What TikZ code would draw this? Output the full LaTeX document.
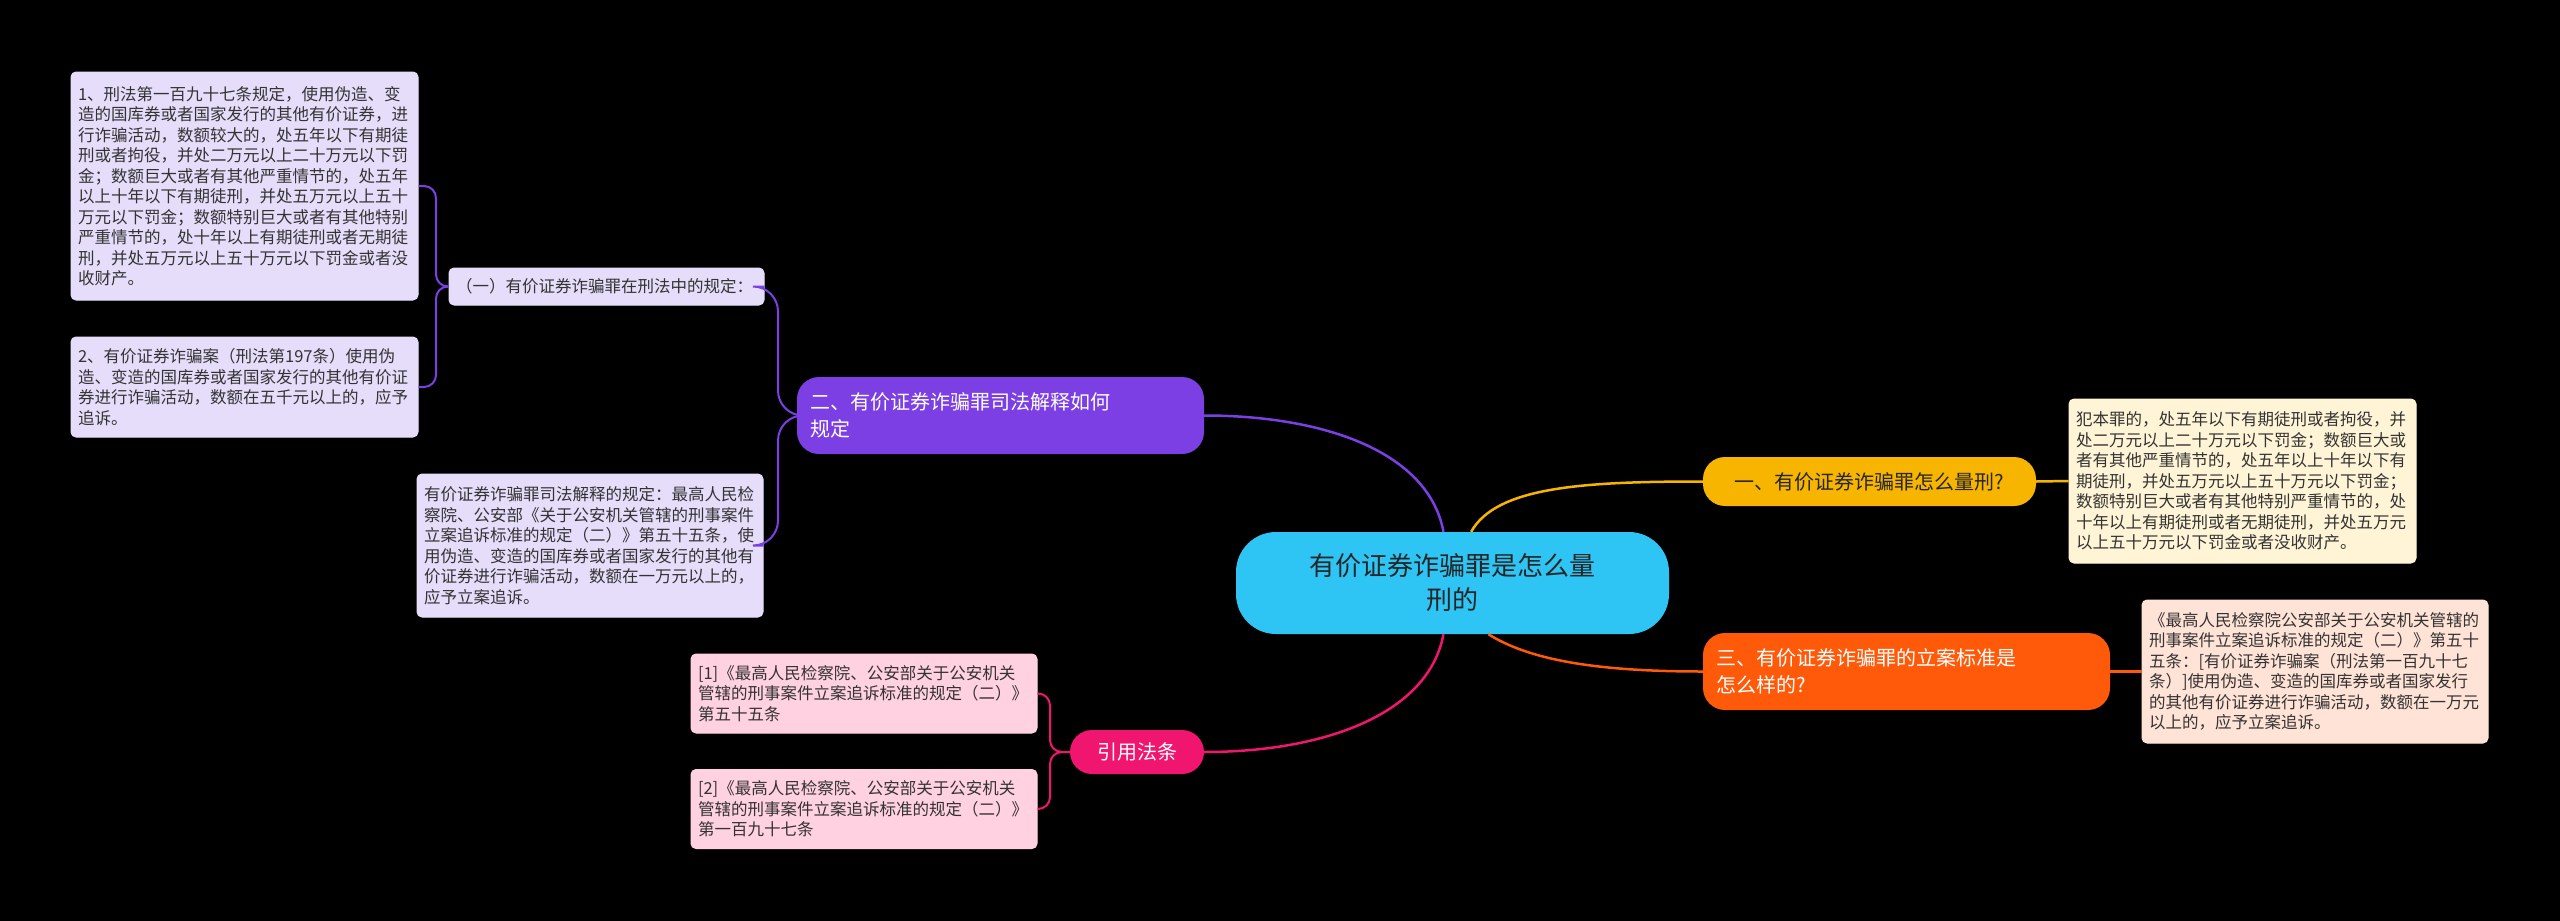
\documentclass[tikz,border=0pt]{standalone}
\usepackage{fontspec}
\setmainfont{Noto Sans CJK SC}
\begin{document}
\begin{tikzpicture}[x=1pt,y=-1pt,
  leaf/.style={draw=#1!60!white,line width=1pt,rounded corners=5pt,inner xsep=7pt,inner ysep=6pt,align=left,anchor=center,font=\fontsize{16.5}{20.5}\selectfont,text=black!80},
  br/.style={fill=#1,rounded corners=22pt,inner sep=6pt,align=left,text=white,font=\fontsize{20}{27}\selectfont},
  con/.style={draw=#1,line width=2.5pt}]
\useasboundingbox[fill=black] (0,0) rectangle (2560,921);
\definecolor{cyanc}{HTML}{2EC4F3}
\definecolor{purc}{HTML}{7B3FE4}
\definecolor{yelc}{HTML}{F7B500}
\definecolor{orac}{HTML}{FF5A0A}
\definecolor{pinc}{HTML}{F0156E}
\definecolor{purl}{HTML}{E6DDFA}
\definecolor{yell}{HTML}{FFF4D6}
\definecolor{oral}{HTML}{FFE3D6}
\definecolor{pinl}{HTML}{FFD1E1}

\node[fill=cyanc,rounded corners=40pt,minimum width=433pt,minimum height=102pt,align=center,text=black!85,font=\fontsize{26}{34}\selectfont] (cen) at (1452.5,583) {有价证券诈骗罪是怎么量\\刑的};

\node[br=yelc,minimum width=333pt,minimum height=49pt,text=black!85] (b1) at (1869.5,481.5) {一、有价证券诈骗罪怎么量刑?};
\node[br=orac,minimum width=407pt,minimum height=77pt,text width=380pt] (b3) at (1906.5,671.5) {三、有价证券诈骗罪的立案标准是\\怎么样的?};
\node[br=purc,minimum width=407pt,minimum height=77pt,text width=380pt] (b2) at (1000.5,415.5) {二、有价证券诈骗罪司法解释如何\\规定};
\node[br=pinc,minimum width=134pt,minimum height=44pt,align=center] (b4) at (1137,752) {引用法条};

\node[leaf=yell,fill=yell,draw=yell,minimum width=347pt,minimum height=164pt,text width=333pt] (l1) at (2242.5,481) {犯本罪的，处五年以下有期徒刑或者拘役，并\\处二万元以上二十万元以下罚金；数额巨大或\\者有其他严重情节的，处五年以上十年以下有\\期徒刑，并处五万元以上五十万元以下罚金；\\数额特别巨大或者有其他特别严重情节的，处\\十年以上有期徒刑或者无期徒刑，并处五万元\\以上五十万元以下罚金或者没收财产。};
\node[leaf=oral,fill=oral,draw=oral,minimum width=346pt,minimum height=143pt,text width=332pt] (l3) at (2315,671.5) {《最高人民检察院公安部关于公安机关管辖的\\刑事案件立案追诉标准的规定（二）》第五十\\五条：[有价证券诈骗案（刑法第一百九十七\\条）]使用伪造、变造的国库券或者国家发行\\的其他有价证券进行诈骗活动，数额在一万元\\以上的，应予立案追诉。};

\node[leaf=purl,fill=purl,draw=purl,minimum width=315pt,minimum height=37pt,text width=301pt] (s1) at (606.5,286.5) {（一）有价证券诈骗罪在刑法中的规定：};
\node[leaf=purl,fill=purl,draw=purl,minimum width=346pt,minimum height=143pt,text width=332pt] (l2) at (590,545.5) {有价证券诈骗罪司法解释的规定：最高人民检\\察院、公安部《关于公安机关管辖的刑事案件\\立案追诉标准的规定（二）》第五十五条，使\\用伪造、变造的国库券或者国家发行的其他有\\价证券进行诈骗活动，数额在一万元以上的，\\应予立案追诉。};
\node[leaf=purl,fill=purl,draw=purl,minimum width=347pt,minimum height=228pt,text width=333pt] (l1a) at (244.5,186) {1、刑法第一百九十七条规定，使用伪造、变\\造的国库券或者国家发行的其他有价证券，进\\行诈骗活动，数额较大的，处五年以下有期徒\\刑或者拘役，并处二万元以上二十万元以下罚\\金；数额巨大或者有其他严重情节的，处五年\\以上十年以下有期徒刑，并处五万元以上五十\\万元以下罚金；数额特别巨大或者有其他特别\\严重情节的，处十年以上有期徒刑或者无期徒\\刑，并处五万元以上五十万元以下罚金或者没\\收财产。};
\node[leaf=purl,fill=purl,draw=purl,minimum width=347pt,minimum height=100pt,text width=333pt] (l1b) at (244.5,387) {2、有价证券诈骗案（刑法第197条）使用伪\\造、变造的国库券或者国家发行的其他有价证\\券进行诈骗活动，数额在五千元以上的，应予\\追诉。};

\node[leaf=pinl,fill=pinl,draw=pinl,minimum width=346pt,minimum height=79pt,text width=332pt] (r1) at (864,693.5) {[1]《最高人民检察院、公安部关于公安机关\\管辖的刑事案件立案追诉标准的规定（二）》\\ 第五十五条};
\node[leaf=pinl,fill=pinl,draw=pinl,minimum width=346pt,minimum height=79pt,text width=332pt] (r2) at (864,809) {[2]《最高人民检察院、公安部关于公安机关\\管辖的刑事案件立案追诉标准的规定（二）》\\ 第一百九十七条};

% main connectors
\draw[con=yelc] (cen.70) .. controls +(25,-45) and +(-120,0) .. (b1.west);
\draw[con=orac] (cen.-55) .. controls +(40,25) and +(-110,0) .. (b3.west);
\draw[con=purc] (cen.100) .. controls +(-15,-80) and +(120,0) .. (b2.east);
\draw[con=pinc] (cen.-100) .. controls +(-15,80) and +(120,0) .. (b4.east);
\draw[con=yelc] (b1.east) -- (l1.west);
\draw[con=orac] (b3.east) -- (l3.west);

% brackets
\coordinate (k2) at (778,0);
\coordinate (k1) at (436,0);
\coordinate (k4) at (1050,0);
\draw[con=purc,line width=2pt,rounded corners=25pt] (b2.west) -- (k2|-b2.west) -- (k2|-s1.east) -- (s1.east);
\draw[con=purc,line width=2pt,rounded corners=25pt] (b2.west) -- (k2|-b2.west) -- (k2|-l2.east) -- (l2.east);
\draw[con=purc,line width=2pt,rounded corners=12pt] (s1.west) -- (k1|-s1.west) -- (k1|-l1a.east) -- (l1a.east);
\draw[con=purc,line width=2pt,rounded corners=12pt] (s1.west) -- (k1|-s1.west) -- (k1|-l1b.east) -- (l1b.east);
\draw[con=pinc,line width=2pt,rounded corners=12pt] (b4.west) -- (k4|-b4.west) -- (k4|-r1.east) -- (r1.east);
\draw[con=pinc,line width=2pt,rounded corners=12pt] (b4.west) -- (k4|-b4.west) -- (k4|-r2.east) -- (r2.east);
\end{tikzpicture}
\end{document}
